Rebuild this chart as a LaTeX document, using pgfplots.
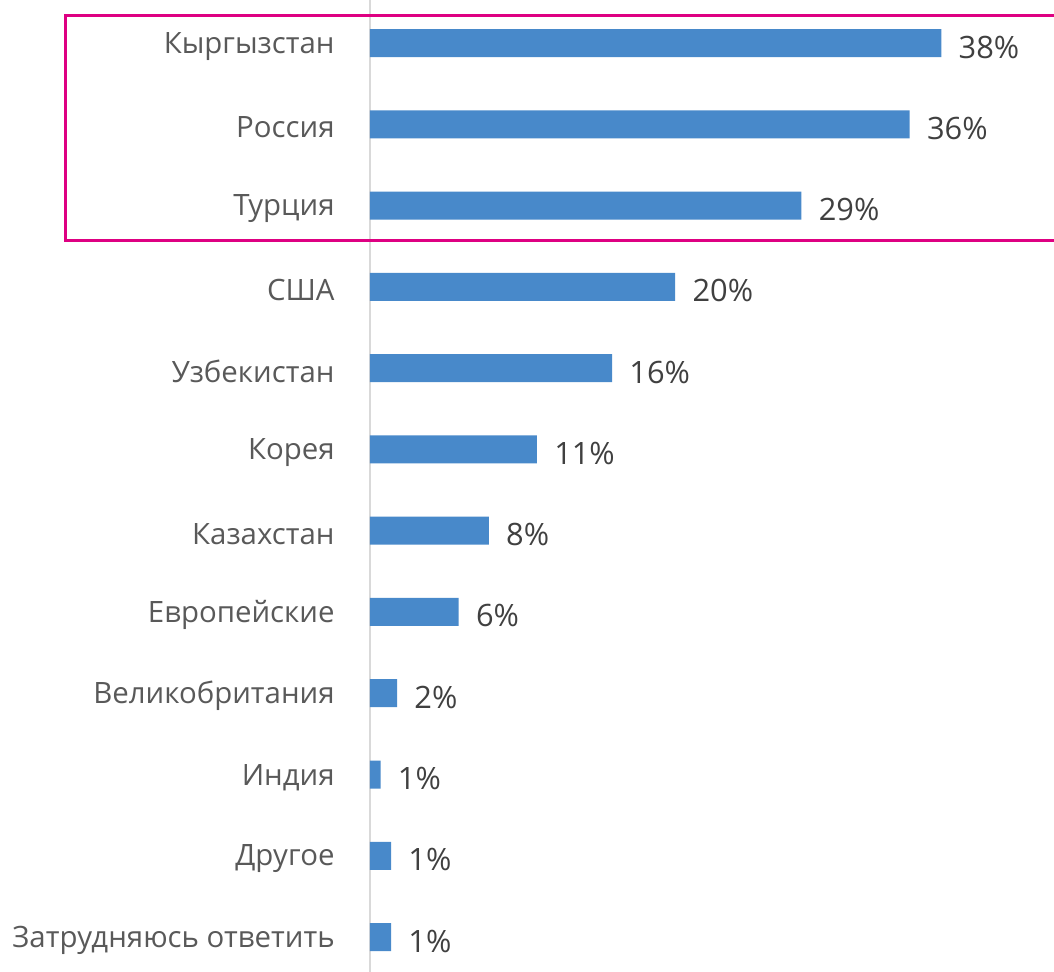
\documentclass[border=0pt]{standalone}
\usepackage{fontspec}
\setmainfont{Open Sans}
\usepackage{pgfplots}
\pgfplotsset{compat=1.18}
\usepackage{pgfplotstable}

\definecolor{barblue}{RGB}{72,137,202}
\definecolor{catgray}{RGB}{89,89,89}
\definecolor{valgray}{RGB}{64,64,64}
\definecolor{framepink}{RGB}{222,0,130}
\definecolor{axgray}{RGB}{217,217,217}

% idx = row from the top, val = share (%), lbl = printed value
\pgfplotstableread{
idx val  lbl
0   38.0 38
1   35.9 36
2   28.7 29
3   20.3 20
4   16.1 16
5   11.1 11
6   7.9  8
7   5.9  6
8   1.8  2
9   0.7  1
10  1.4  1
11  1.4  1
}\countries

\begin{document}
\begin{tikzpicture}
\begin{axis}[
  width=342pt, height=486pt, scale only axis,
  xmin=0, xmax=45.5,
  ymin=-0.53, ymax=11.43, y dir=reverse,
  axis x line=none, axis y line*=left,
  y axis line style={axgray, line width=1pt},
  xbar, bar width=14pt,
  ytick={0,...,11},
  yticklabels={Кыргызстан, Россия, Турция, США, Узбекистан, Корея, Казахстан,
    Европейские, Великобритания, Индия, Другое, Затрудняюсь ответить},
  major tick length=0pt,
  yticklabel style={font=\fontsize{14.7}{18}\selectfont, text=catgray,
    inner sep=0pt, xshift=-17.5pt, yshift=-1.5pt},
  point meta=explicit symbolic,
  nodes near coords={\pgfplotspointmeta\%},
  nodes near coords style={anchor=west, inner sep=0pt, xshift=8.5pt, yshift=-2pt,
    text=valgray, font=\fontsize{15.4}{18}\selectfont},
  clip=false,
]
\addplot[fill=barblue, draw=none] table[x=val, y=idx, meta=lbl] {\countries};

\draw[framepink, line width=1.5pt] (axis cs:-20.23,-0.345) rectangle (axis cs:46,2.424);
\coordinate (A) at (rel axis cs:0,0);
\coordinate (B) at (rel axis cs:1,1);
\end{axis}
\pgfresetboundingbox
\useasboundingbox ([xshift=-185pt]A) rectangle (B);
\end{tikzpicture}
\end{document}
